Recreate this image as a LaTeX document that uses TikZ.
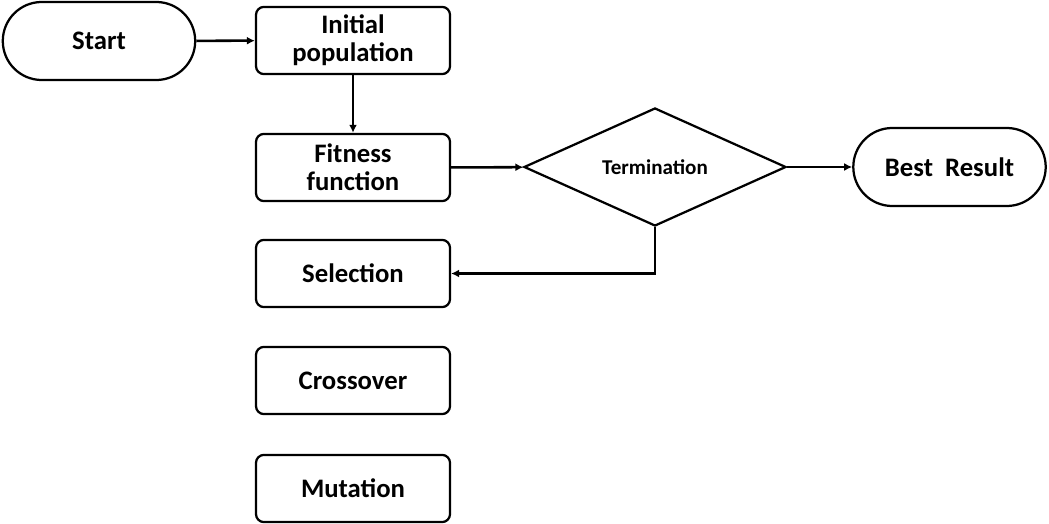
\documentclass[tikz,border=0pt]{standalone}
\usepackage{fontspec}
\setmainfont{Carlito}
\usepackage{tikz}
\usetikzlibrary{shapes.geometric, shapes.misc, arrows.meta}

\tikzset{
    procbox/.style={draw, line width=1.6pt, rounded corners=0.2cm, minimum width=4.85cm, minimum height=1.68cm, align=center, font=\fontsize{19}{20}\selectfont\bfseries},
    pillbox/.style={draw, line width=1.6pt, rounded rectangle, minimum width=4.95cm, minimum height=1.95cm, inner xsep=2pt, font=\fontsize{19}{20}\selectfont\bfseries},
    decbox/.style={draw, line width=1.6pt, diamond, aspect=2.22, minimum width=6.55cm, minimum height=2.95cm, inner sep=0pt, font=\fontsize{15}{16}\selectfont\bfseries},
    flow/.style={line width=1.8pt, -{Latex[length=2mm, width=2mm]}}
}

\begin{document}
\begin{tikzpicture}[x=0.025cm, y=-0.025cm]
\useasboundingbox (0,0) rectangle (1049,524);

% Terminals
\node[pillbox] (start) at (99, 41) {Start};
\node[pillbox] (best) at (949.5, 167) {Best\ \ Result};

% Steps
\node[procbox] (init) at (353, 40.5) {Initial\\population};
\node[procbox] (fitness) at (353, 167.5) {Fitness\\function};
\node[procbox] (select) at (353, 273.5) {Selection};
\node[procbox] (cross) at (353, 380.5) {Crossover};
\node[procbox] (mutate) at (353, 488.5) {Mutation};

% Decision
\node[decbox] (term) at (655, 167) {Termination};

% Connections
\draw[flow] (start) -- (init);
\draw[flow] (init) -- (fitness);
\draw[flow] (fitness) -- (term);
\draw[flow] (term) -- (best);
\draw[flow] (term.south) |- (select.east);
\end{tikzpicture}
\end{document}
